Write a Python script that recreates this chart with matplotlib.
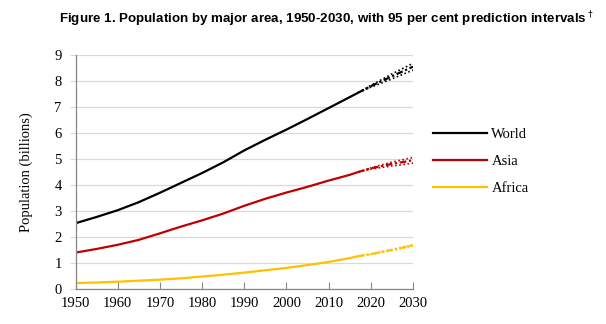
import numpy as np
import matplotlib
matplotlib.use("Agg")
import matplotlib.pyplot as plt
from matplotlib.lines import Line2D

# Estimates, 1950-2017 (billions)
years_est = [1950, 1955, 1960, 1965, 1970, 1975, 1980, 1985, 1990, 1995,
             2000, 2005, 2010, 2015, 2017]
world_est = [2.53, 2.77, 3.03, 3.34, 3.70, 4.08, 4.46, 4.87, 5.33, 5.74,
             6.13, 6.54, 6.96, 7.38, 7.55]
asia_est = [1.40, 1.54, 1.70, 1.89, 2.14, 2.40, 2.64, 2.90, 3.20, 3.47,
            3.71, 3.93, 4.17, 4.39, 4.50]
africa_est = [0.23, 0.25, 0.28, 0.32, 0.36, 0.41, 0.48, 0.55, 0.63, 0.72,
              0.81, 0.92, 1.04, 1.19, 1.26]

# Projections, 2017-2030: median with 95% lower / upper bounds
years_proj = [2017, 2020, 2025, 2030]
world_med = [7.55, 7.80, 8.18, 8.55]
world_lo = [7.55, 7.76, 8.08, 8.42]
world_hi = [7.55, 7.83, 8.27, 8.68]
asia_med = [4.50, 4.64, 4.81, 4.95]
asia_lo = [4.50, 4.61, 4.73, 4.84]
asia_hi = [4.50, 4.66, 4.88, 5.06]
africa_med = [1.26, 1.34, 1.50, 1.68]
africa_lo = [1.26, 1.33, 1.48, 1.65]
africa_hi = [1.26, 1.35, 1.52, 1.71]

areas = ["World", "Asia", "Africa"]
colors = ["#000000", "#c00000", "#ffc000"]

serif = "Liberation Serif"

fig = plt.figure(figsize=(6.06, 3.24), dpi=100)
ax = fig.add_axes([75.5 / 606, 1 - 289 / 324, (413 - 75.5) / 606, (289 - 55) / 324])

series = [
    (world_est, world_med, world_lo, world_hi),
    (asia_est, asia_med, asia_lo, asia_hi),
    (africa_est, africa_med, africa_lo, africa_hi),
]
for (est, med, lo, hi), c in zip(series, colors):
    ax.plot(years_est, est, color=c, lw=1.6, solid_capstyle="butt")
    ax.plot(years_proj, med, color=c, lw=1.6, linestyle=(0, (3, 1.2, 1, 1.2)))
    ax.plot(years_proj, lo, color=c, lw=1.2, linestyle=(0, (1, 1.5)))
    ax.plot(years_proj, hi, color=c, lw=1.2, linestyle=(0, (1, 1.5)))

ax.set_xlim(1950, 2030)
ax.set_ylim(0, 9)
ax.set_xticks(np.arange(1950, 2031, 10))
ax.set_yticks(np.arange(0, 10, 1))
ax.grid(axis="y", color="#d9d9d9", lw=0.9)
ax.set_axisbelow(True)

for s in ["top", "right"]:
    ax.spines[s].set_visible(False)
for s in ["left", "bottom"]:
    ax.spines[s].set_color("#868686")
    ax.spines[s].set_linewidth(0.9)

ax.tick_params(axis="x", direction="in", length=5, color="#868686", pad=6)
ax.tick_params(axis="y", length=4, color="#d9d9d9", pad=6)
for lab in ax.get_xticklabels() + ax.get_yticklabels():
    lab.set_fontfamily(serif)
    lab.set_fontsize(10.5)

ax.set_ylabel("Population (billions)", fontfamily=serif, fontsize=10.5, labelpad=15)

handles = [Line2D([], [], color=c, lw=1.6) for c in colors]
fig.legend(handles, areas, loc="upper left", bbox_to_anchor=(420 / 606, 1 - 115 / 324),
           frameon=False, handlelength=3.7, handletextpad=0.3, labelspacing=0.95,
           prop={"family": serif, "size": 10.5})

fig.text(0.538, 1 - 19 / 324,
         "Figure 1. Population by major area, 1950-2030, with 95 per cent prediction intervals$^\\dagger$",
         ha="center", va="center", fontfamily="Liberation Sans", fontweight="bold", fontsize=9.6)

fig.savefig("out.png", dpi=100)
